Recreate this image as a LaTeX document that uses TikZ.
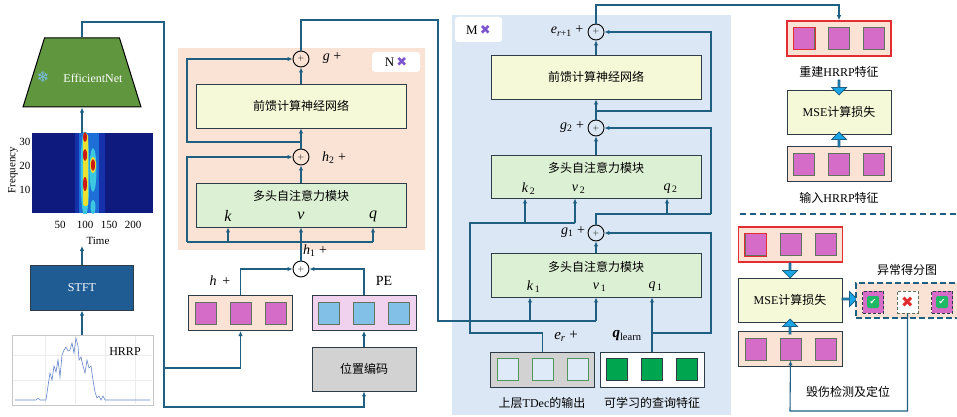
\documentclass[tikz,border=0pt]{standalone}
\usepackage{fontspec}
\setmainfont{Liberation Serif}
\newfontfamily\cjk{Noto Sans CJK SC}
\newfontfamily\symf{DejaVu Sans}
\usetikzlibrary{arrows.meta,shapes.geometric,shapes.arrows,calc}

\definecolor{linec}{RGB}{30,95,130}
\definecolor{boxline}{RGB}{45,60,70}
\definecolor{encbg}{RGB}{250,226,213}
\definecolor{decbg}{RGB}{219,231,244}
\definecolor{ffnc}{RGB}{245,249,215}
\definecolor{mhac}{RGB}{220,240,212}
\definecolor{magc}{RGB}{213,108,200}
\definecolor{skyc}{RGB}{130,192,232}
\definecolor{pec}{RGB}{240,210,238}
\definecolor{grayc}{RGB}{210,210,210}
\definecolor{stftc}{RGB}{32,92,148}
\definecolor{effc}{RGB}{96,150,62}
\definecolor{fatc}{RGB}{25,165,230}
\definecolor{redc}{RGB}{228,45,50}
\definecolor{qgreen}{RGB}{0,165,80}
\definecolor{xpurple}{RGB}{125,85,205}
\definecolor{cellline}{RGB}{95,115,95}
\definecolor{ersq}{RGB}{222,234,248}
\definecolor{ersqline}{RGB}{80,150,90}
\definecolor{specbg}{RGB}{14,26,125}
\definecolor{specmid}{RGB}{22,50,170}
\definecolor{specband}{RGB}{30,110,215}
\definecolor{speccyan}{RGB}{60,200,225}
\definecolor{specyel}{RGB}{235,225,50}
\definecolor{specred}{RGB}{205,25,20}
\definecolor{sigc}{RGB}{100,130,200}
\definecolor{okc}{RGB}{30,185,100}
\definecolor{flakec}{RGB}{120,190,235}

\tikzset{
    link/.style={draw=linec, line width=1.1pt},
    arr/.style={-{Latex[length=5pt,width=4.5pt]}},
    block/.style={draw=boxline, line width=0.9pt, minimum width=210pt, minimum height=44pt, inner sep=0pt},
    adder/.style={circle, draw=black, line width=0.9pt, minimum size=16pt, inner sep=0pt, font=\fontsize{8}{8}\selectfont},
    row/.style={draw=boxline, line width=1pt, minimum width=104pt, minimum height=35pt, inner sep=0pt},
    cell/.style={draw=cellline, line width=0.9pt, minimum width=21pt, minimum height=22pt, inner sep=0pt},
    fatarr/.style={single arrow, draw=linec, line width=0.8pt, fill=fatc, inner sep=0pt, minimum width=15pt, minimum height=15pt, single arrow head extend=3pt},
    tag/.style={fill=white, rounded corners=3pt, inner sep=0pt},
    small/.style={font=\fontsize{11}{13}\selectfont},
    sym/.style={font=\fontsize{14}{16}\selectfont},
    port/.style={font=\fontsize{16}{16}\selectfont},
}

\newcommand{\cells}[3]{%
    \foreach \i/\dx in {1/-35,2/0,3/35}
        \node[cell, fill=#2, draw=#3] (#1-\i) at ([xshift=\dx pt]#1.center) {};}
\newcommand{\sv}[2]{\textit{#1}\textsubscript{#2}}

\begin{document}
\begin{tikzpicture}[x=1pt,y=-1pt,font=\fontsize{12}{14}\selectfont]
    \useasboundingbox (0,0) rectangle (957,417);

    \node[fill=encbg, inner sep=0pt, minimum width=247pt, minimum height=202pt] (encbg) at (301.5,149) {};
    \node[fill=decbg, inner sep=0pt, minimum width=279pt, minimum height=400pt] (decbg) at (591.5,215) {};
    \node[tag, minimum width=48pt, minimum height=20pt, font=\fontsize{13}{13}\selectfont] (ntimes) at (396,62) {N\,{\symf\color{xpurple}✖}};
    \node[tag, minimum width=47pt, minimum height=25pt, font=\fontsize{13}{13}\selectfont] (mtimes) at (478.5,29.5) {M\,{\symf\color{xpurple}✖}};

    \node[trapezium, trapezium angle=74, trapezium stretches=true, draw=black, line width=1pt, fill=effc, minimum width=118pt, minimum height=69pt] (effnet) at (82,72.5) {};
    \node[text=white] (efflab) at (93,78) {EfficientNet};
    \node[text=flakec, font=\symf\fontsize{15}{15}\selectfont] (flake) at (43,77) {❄};

    \node[fill=specbg, inner sep=0pt, minimum width=121pt, minimum height=80pt] (spec) at (92.5,173) {};
    \begin{scope}
        \clip (spec.south west) rectangle (spec.north east);
        \fill[specmid] (75,133) rectangle (105,213);
        \fill[specband] (79,133) rectangle (99,213);
        \fill[speccyan] (85,173) ellipse (4.5 and 44);
        \fill[speccyan] (93,170) ellipse (3.5 and 22);
        \fill[speccyan] (93,207) ellipse (2.5 and 7);
        \fill[specyel, rounded corners=2pt] (83,134) rectangle (88,206);
        \fill[specyel] (93,165) ellipse (3 and 8);
        \foreach \cx/\cy/\ry in {85/137/5, 85/155/6, 93/165/6, 85/184/7}
            \fill[specred] (\cx,\cy) ellipse (2 and \ry);
    \end{scope}
    \node[small] (f30) at (25,142) {30};
    \node[small] (f20) at (25,166) {20};
    \node[small] (f10) at (25,190) {10};
    \node[small, rotate=90] (flab) at (13,170) {Frequency};
    \node[small] (t50) at (60,225) {50};
    \node[small] (t100) at (85,225) {100};
    \node[small] (t150) at (109,225) {150};
    \node[small] (t200) at (133,225) {200};
    \node[small, inner sep=1pt] (tlab) at (98,241) {Time};

    \node[draw=boxline, line width=1pt, fill=stftc, text=white, inner sep=0pt, minimum width=103pt, minimum height=45pt] (stft) at (82,287.5) {STFT};

    \node[draw=gray!45, line width=0.8pt, inner sep=0pt, minimum width=141pt, minimum height=70pt] (hrrp) at (82.5,370) {};
    \foreach \gx in {45,75,105,135}
        \draw[gray!15] (\gx,336) -- (\gx,404);
    \foreach \gy in {355,380}
        \draw[gray!15] (13,\gy) -- (152,\gy);
    \draw[sigc, line width=0.6pt] plot coordinates {(15,400) (36,400) (38,398) (40,400) (46,400) (48,386) (50,373) (52,380) (54,366) (56,372) (58,360) (60,377) (62,355) (64,350) (66,347) (68,351) (70,350) (72,343) (74,353) (76,338) (78,346) (79,360) (81,357) (83,366) (85,373) (87,360) (89,368) (91,366) (93,380) (95,392) (97,398) (99,396) (101,400) (103,396) (105,400) (150,400)};
    \node (hrrplab) at (125,352) {HRRP};

    \node[adder] (addg) at (301,59) {$+$};
    \node[sym] (glab) at (332,58) {\textit{g} +};
    \node[block, fill=ffnc] (ffn1) at (301,106) {\cjk 前馈计算神经网络};
    \node[adder] (addh2) at (301,157) {$+$};
    \node[sym] (h2lab) at (334,158) {\sv{h}{2} +};
    \node[block, fill=mhac] (mha1) at (301,205) {};
    \node (mha1t) at (301,196) {\cjk 多头自注意力模块};
    \node[port] (k0) at (228,216) {\textit{k}};
    \node[port] (v0) at (301,216) {\textit{v}};
    \node[port] (q0) at (373,216) {\textit{q}};
    \node[adder] (addh1) at (301,269) {$+$};
    \node[sym] (h1lab) at (315,251) {\sv{h}{1} +};

    \node[row, fill=encbg] (hbox) at (240.5,313) {};
    \cells{hbox}{magc}{cellline}
    \node[sym] (hlab) at (220,281) {\textit{h}\, +};
    \node[row, fill=pec] (pebox) at (364,313) {};
    \cells{pebox}{skyc}{cellline}
    \node[font=\fontsize{14}{14}\selectfont] (pelab) at (384,281) {PE};
    \node[block, fill=grayc, minimum width=104pt] (posenc) at (364,369) {\cjk 位置编码};

    \node[adder] (adde) at (596,32) {$+$};
    \node[sym] (elab) at (567,31) {\sv{e}{\textit{r}+1} +};
    \node[block, fill=ffnc] (ffn2) at (596,77) {\cjk 前馈计算神经网络};
    \node[adder] (addg2) at (596,128) {$+$};
    \node[sym] (g2lab) at (572,127) {\sv{g}{2} +};
    \node[block, fill=mhac, minimum height=43pt] (mha3) at (596,176.5) {};
    \node (mha3t) at (596,168) {\cjk 多头自注意力模块};
    \node[sym] (k2) at (525,189) {\textit{k}\rlap{\textsubscript{\,2}}};
    \node[sym] (v2) at (575,189) {\textit{v}\rlap{\textsubscript{\,2}}};
    \node[sym] (q2) at (667,189) {\textit{q}\rlap{\textsubscript{\,2}}};
    \node[adder] (addg1) at (596,233) {$+$};
    \node[sym] (g1lab) at (573,232) {\sv{g}{1} +};
    \node[block, fill=mhac] (mha2) at (596,275) {};
    \node (mha2t) at (596,267) {\cjk 多头自注意力模块};
    \node[sym] (k1) at (530,287) {\textit{k}\rlap{\textsubscript{\,1}}};
    \node[sym] (v1) at (596,287) {\textit{v}\rlap{\textsubscript{\,1}}};
    \node[sym] (q1) at (652,287) {\textit{q}\rlap{\textsubscript{\,1}}};

    \node[row, fill=grayc] (erbox) at (542.5,369.5) {};
    \cells{erbox}{ersq}{ersqline}
    \node[row, fill=white] (qbox) at (652,369.5) {};
    \cells{qbox}{qgreen}{boxline}
    \node[font=\fontsize{15}{15}\selectfont] (erlab) at (566,336) {\sv{e}{\textit{r}} +};
    \node[font=\fontsize{15}{15}\selectfont] (qlab) at (627,336) {\textbf{\textit{q}}\textsubscript{learn}};
    \node (erdesc) at (542,403) {{\cjk 上层}TDec{\cjk 的输出}};
    \node (qdesc) at (652,403) {\cjk 可学习的查询特征};

    \node[row, fill=encbg, draw=redc, line width=1.5pt] (recbox) at (839,38.5) {};
    \cells{recbox}{magc}{cellline}
    \draw[redc, line width=0.9pt] (recbox-1.south west) rectangle (recbox-1.north east);
    \node (reclab) at (839,72) {{\cjk 重建}HRRP{\cjk 特征}};
    \node[block, fill=ffnc, minimum width=104pt] (mse1) at (839,112) {MSE{\cjk 计算损失}};
    \node[row, fill=encbg] (inbox1) at (839,164) {};
    \cells{inbox1}{magc}{cellline}
    \node (inlab) at (839,198) {{\cjk 输入}HRRP{\cjk 特征}};
    \node[fatarr, shape border rotate=270] (fa1) at (839,87) {};
    \node[fatarr, shape border rotate=90] (fa2) at (839,140) {};

    \coordinate (sepl) at (740,214);
    \coordinate (sepr) at (957,214);
    \draw[linec, line width=1.3pt, dash pattern=on 6pt off 4pt] (sepl) -- (sepr);

    \node[row, fill=encbg, draw=redc, line width=1.5pt] (recbox2) at (790.5,244.5) {};
    \cells{recbox2}{magc}{cellline}
    \draw[redc, line width=0.9pt] (recbox2-1.south west) rectangle (recbox2-1.north east);
    \node[block, fill=ffnc, minimum width=104pt] (mse2) at (790,300) {MSE{\cjk 计算损失}};
    \node[row, fill=encbg] (inbox2) at (790.5,349) {};
    \cells{inbox2}{magc}{cellline}
    \node[fatarr, shape border rotate=270] (fa3) at (790,270) {};
    \node[fatarr, shape border rotate=90] (fa4) at (790,327) {};
    \node[fatarr] (fa5) at (849,299) {};

    \begin{scope}
        \clip (0,0) rectangle (957,417);
        \node[row, fill=encbg, draw=linec, line width=1.3pt, dash pattern=on 6pt off 3pt, minimum width=122pt] (score) at (917,300.5) {};
        \node[cell, fill=magc, draw=boxline, dash pattern=on 3pt off 2pt] (sq1) at (873,302) {};
        \node[cell, fill=white, draw=cellline, dash pattern=on 3pt off 2pt] (sq2) at (907.5,302) {};
        \node[cell, fill=magc, draw=boxline, dash pattern=on 3pt off 2pt] (sq3) at (942,302) {};
        \node[fill=okc, rounded corners=1.5pt, minimum size=12pt, inner sep=0pt, text=white, font=\symf\fontsize{8}{8}\selectfont] (ok1) at (sq1) {✔};
        \node[fill=okc, rounded corners=1.5pt, minimum size=12pt, inner sep=0pt, text=white, font=\symf\fontsize{8}{8}\selectfont] (ok3) at (sq3) {✔};
        \node[text=redc, inner sep=0pt, font=\symf\fontsize{15}{15}\selectfont] (bad) at (sq2) {✖};
    \end{scope}
    \node (scorelab) at (907,270) {\cjk 异常得分图};
    \node (dmglab) at (848,392) {\cjk 毁伤检测及定位};

    \coordinate (bus1) at (164,22);
    \coordinate (bus2) at (164,407);
    \coordinate (bus3) at (164,368);
    \draw[link,arr] (hrrp.north -| stft.south) -- (stft.south);
    \draw[link,arr] (stft.north) -- (stft.north |- tlab.south);
    \draw[link,arr] (spec.north -| effnet.south) -- (effnet.south);
    \draw[link,arr] (effnet.north) |- (bus1) -- (bus2) -| (posenc.south);
    \draw[link,arr] (bus3) -| (hbox.south);

    \coordinate (resA) at (187,242);
    \coordinate (resC) at (187,142);
    \draw[link,arr] (posenc.north) -- (pebox.south);
    \draw[link,arr] (hbox.north) |- (addh1.west);
    \draw[link,arr] (pebox.north) |- (addh1.east);
    \draw[link,arr] (addh1.north) -- (mha1.south);
    \draw[link] (resA) -- (q0 |- resA);
    \draw[link,arr] (k0 |- resA) -- (k0 |- mha1.south);
    \draw[link,arr] (q0 |- resA) -- (q0 |- mha1.south);
    \draw[link,arr] (resA) |- (addh2.west);
    \draw[link,arr] (mha1.north) -- (addh2.south);
    \draw[link,arr] (addh2.north) -- (ffn1.south);
    \draw[link,arr] (addh2 |- resC) -- (resC) |- (addg.west);
    \draw[link,arr] (ffn1.north) -- (addg.south);

    \coordinate (enc1) at (438,20);
    \coordinate (enc2) at (438,321);
    \draw[link] (addg.north) |- (enc1) -- (enc2) -- (v1 |- enc2);
    \draw[link,arr] (k1 |- enc2) -- (k1 |- mha2.south);
    \draw[link,arr] (v1 |- enc2) -- (v1 |- mha2.south);

    \coordinate (erA) at (470,333);
    \coordinate (erB) at (470,223);
    \draw[link] (erbox.north) |- (erA) -- (erB) -- (v2 |- erB);
    \draw[link,arr] (k2 |- erB) -- (k2 |- mha3.south);
    \draw[link,arr] (v2 |- erB) -- (v2 |- mha3.south);

    \coordinate (qres) at (711,333);
    \coordinate (g1res) at (711,214);
    \coordinate (g2res) at (711,111);
    \draw[link,arr] (qbox.north) -- (qbox.north |- mha2.south);
    \draw[link,arr] (qbox.north |- qres) -- (qres) |- (addg1.east);
    \draw[link,arr] (mha2.north) -- (addg1.south);
    \draw[link] (addg1.north) |- (g1res);
    \draw[link,arr] (g1res) |- (addg2.east);
    \draw[link,arr] (q2 |- g1res) -- (q2 |- mha3.south);
    \draw[link,arr] (mha3.north) -- (addg2.south);
    \draw[link,arr] (addg2.north) -- (ffn2.south);
    \draw[link,arr] (addg2 |- g2res) -- (g2res) |- (adde.east);
    \draw[link,arr] (ffn2.north) -- (adde.south);

    \coordinate (decout) at (596,5);
    \draw[link,arr] (adde.north) -- (decout) -| (recbox.north);

    \coordinate (dmg) at (790,411);
    \draw[link,arr] (sq2.south) |- (dmg) -- (inbox2-2.south);
\end{tikzpicture}
\end{document}
